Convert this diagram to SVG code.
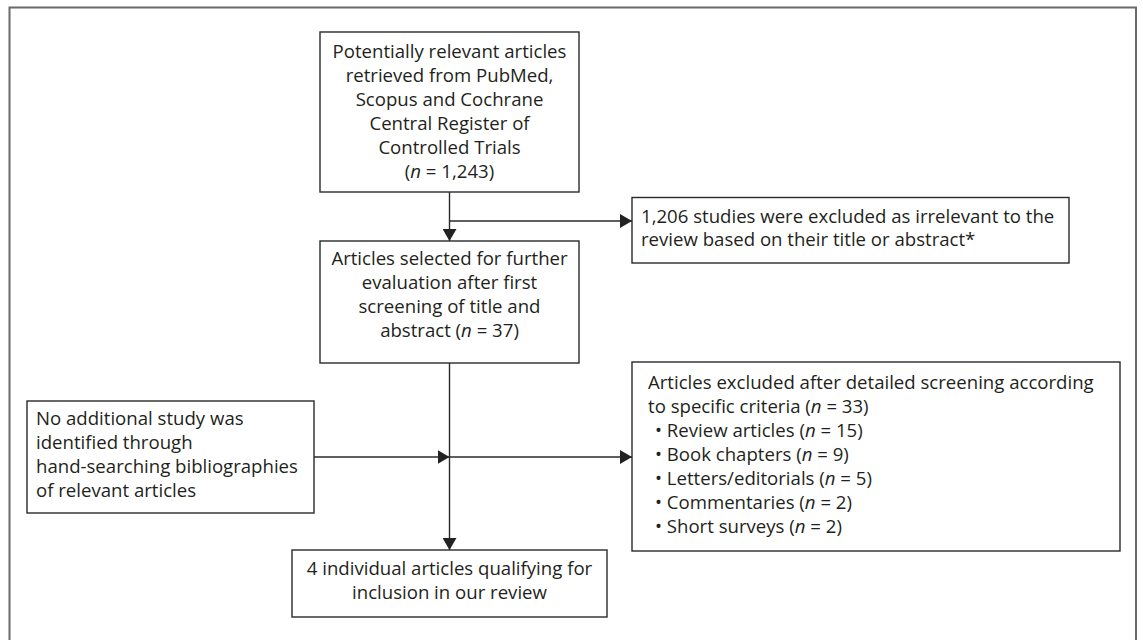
<svg xmlns="http://www.w3.org/2000/svg" width="1143" height="640" viewBox="0 0 1143 640">
<defs>
<style>
.box{fill:#fff;stroke:#2a2a2a;stroke-width:1.4}
.t{font-family:"Open Sans","Noto Sans","Liberation Sans",sans-serif;font-size:18.6px;fill:#231f20}
.c{text-anchor:middle}
.i{font-style:italic}
.ln{fill:none;stroke:#2a2a2a;stroke-width:1.4}
</style>
<marker id="ah" viewBox="0 0 12 14" refX="12" refY="7" markerWidth="12" markerHeight="14" markerUnits="userSpaceOnUse" orient="auto">
<path d="M0,0 L12,7 L0,14 Z" fill="#222"/>
</marker>
</defs>
<rect width="1143" height="640" fill="#fff"/>
<rect x="9.5" y="7.5" width="1126.5" height="700" fill="none" stroke="#6a6a6a" stroke-width="2"/>

<g id="connectors">
<line class="ln" x1="449.5" y1="192" x2="449.5" y2="241" marker-end="url(#ah)"/>
<line class="ln" x1="449.5" y1="221" x2="632" y2="221" marker-end="url(#ah)"/>
<line class="ln" x1="449.5" y1="363" x2="449.5" y2="550" marker-end="url(#ah)"/>
<line class="ln" x1="314" y1="457" x2="449.5" y2="457" marker-end="url(#ah)"/>
<line class="ln" x1="449.5" y1="457" x2="632" y2="457" marker-end="url(#ah)"/>
</g>

<g id="node-retrieved">
<rect class="box" x="320" y="32" width="259" height="160"/>
<text class="t c" x="449.5" y="58">Potentially relevant articles</text>
<text class="t c" x="449.5" y="82">retrieved from PubMed,</text>
<text class="t c" x="449.5" y="106">Scopus and Cochrane</text>
<text class="t c" x="449.5" y="130">Central Register of</text>
<text class="t c" x="449.5" y="154">Controlled Trials</text>
<text class="t c" x="449.5" y="178">(<tspan class="i">n</tspan> = 1,243)</text>
</g>

<g id="node-excluded1">
<rect class="box" x="632" y="197.5" width="437" height="65.5"/>
<text class="t" x="641" y="223">1,206 studies were excluded as irrelevant to the</text>
<text class="t" x="641" y="246">review based on their title or abstract*</text>
</g>

<g id="node-selected">
<rect class="box" x="320" y="241" width="259" height="122"/>
<text class="t c" x="449.5" y="265">Articles selected for further</text>
<text class="t c" x="449.5" y="289">evaluation after first</text>
<text class="t c" x="449.5" y="313">screening of title and</text>
<text class="t c" x="449.5" y="337">abstract (<tspan class="i">n</tspan> = 37)</text>
</g>

<g id="node-handsearch">
<rect class="box" x="27" y="401" width="287" height="112"/>
<text class="t" x="36" y="425">No additional study was</text>
<text class="t" x="36" y="449">identified through</text>
<text class="t" x="36" y="473">hand-searching bibliographies</text>
<text class="t" x="36" y="497">of relevant articles</text>
</g>

<g id="node-excluded2">
<rect class="box" x="632" y="362" width="488" height="189"/>
<text class="t" x="648" y="389">Articles excluded after detailed screening according</text>
<text class="t" x="648" y="413">to specific criteria (<tspan class="i">n</tspan> = 33)</text>
<text class="t" x="655" y="437">• Review articles (<tspan class="i">n</tspan> = 15)</text>
<text class="t" x="655" y="461">• Book chapters (<tspan class="i">n</tspan> = 9)</text>
<text class="t" x="655" y="485">• Letters/editorials (<tspan class="i">n</tspan> = 5)</text>
<text class="t" x="655" y="509">• Commentaries (<tspan class="i">n</tspan> = 2)</text>
<text class="t" x="655" y="533">• Short surveys (<tspan class="i">n</tspan> = 2)</text>
</g>

<g id="node-included">
<rect class="box" x="292" y="550" width="315" height="67"/>
<text class="t c" x="449.5" y="575">4 individual articles qualifying for</text>
<text class="t c" x="449.5" y="599">inclusion in our review</text>
</g>
</svg>
